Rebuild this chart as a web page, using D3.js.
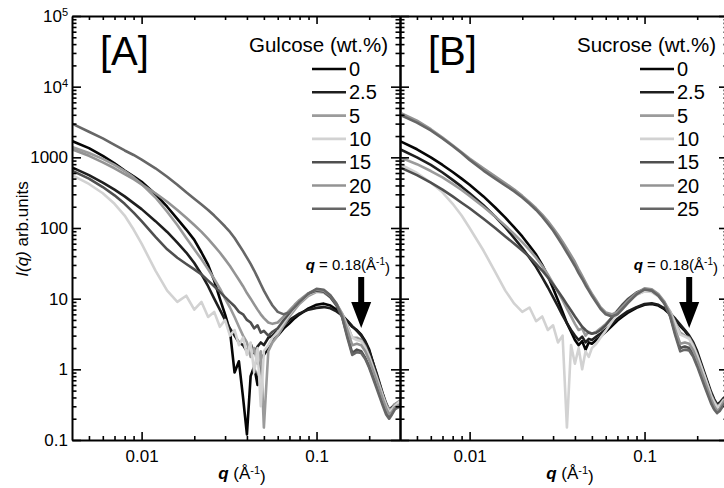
<!DOCTYPE html>
<html>
<head>
<meta charset="utf-8">
<script src="https://cdn.jsdelivr.net/npm/d3@7"></script>
<style>
  body { margin: 0; background: #fff; }
  svg { display: block; font-family: "Liberation Sans", Arial, sans-serif; }
</style>
</head>
<body>
<svg id="chart" width="724" height="488"></svg>
<script>
// q grid (1/Å) shared by every curve
const qValues = [
  0.004, 0.005, 0.006, 0.007, 0.008, 0.009,
  0.01, 0.012, 0.014, 0.016, 0.018, 0.02,
  0.022, 0.024, 0.026, 0.028, 0.03, 0.032, 0.034, 0.036, 0.038, 0.04, 0.042, 0.044, 0.046, 0.048, 0.05,
  0.053, 0.056, 0.06, 0.065, 0.07, 0.075, 0.08, 0.09,
  0.1, 0.11, 0.12, 0.13, 0.14, 0.15, 0.16, 0.17, 0.18, 0.19, 0.2,
  0.22, 0.24, 0.25, 0.26, 0.27, 0.28, 0.3
]
const concLabels = ['0', '2.5', '5', '10', '15', '20', '25']
const lineColors = ['#050505', '#1e1e1e', '#9b9b9b', '#d2d2d2', '#4f4f4f', '#939393', '#666666']

// panel A, glucose
const glucose0 = [1700, 1350, 1050, 820, 650, 540,
  450, 300, 200, 135, 95, 68,
  45, 30, 18, 10, 6, 3.5, 0.9, 1.3, 0.4, 0.12, 0.8, 1.1, 0.6, 1.4, 1.6,
  2.0, 2.6, 3.0, 3.8, 4.5, 5.3, 6.0, 7.3,
  8.2, 8.5, 8.0, 7.0, 5.8, 4.8, 4.0, 3.6, 3.1, 2.5, 1.9,
  0.85, 0.42, 0.3, 0.25, 0.27, 0.31, 0.33]
const glucose2_5 = [720, 560, 440, 350, 280, 225,
  185, 125, 88, 62, 45, 32,
  22, 15, 10, 7, 5, 3.8, 3.0, 2.4, 2.2, 1.8, 2.3, 1.7, 2.1, 2.4, 2.2,
  2.8, 3.0, 3.6, 4.3, 5.0, 5.6, 6.2, 7.0,
  7.4, 7.6, 7.3, 6.6, 5.8, 4.9, 4.1, 3.5, 3.0, 2.4, 1.8,
  0.9, 0.44, 0.33, 0.27, 0.29, 0.32, 0.35]
const glucose5 = [1400, 1150, 950, 780, 640, 520,
  420, 270, 170, 110, 72, 50,
  36, 26, 19, 14, 10, 7.5, 5.5, 4.0, 3.0, 2.4, 1.5, 2.0, 1.2, 1.8, 0.15,
  1.8, 2.4, 3.0, 4.2, 5.6, 7.0, 8.5, 11,
  12.5, 12.2, 10.6, 8.4, 6.2, 4.2, 2.8, 2.8, 2.6, 2.1, 1.55,
  0.8, 0.42, 0.32, 0.27, 0.28, 0.32, 0.36]
const glucose10 = [560, 420, 310, 220, 150, 95,
  60, 25, 13, 9, 11, 7,
  9, 5.5, 6.5, 4, 5, 3, 3.6, 2.2, 2.8, 1.6, 2.4, 0.9, 2.0, 0.3, 1.8,
  2.2, 2.8, 3.4, 4.6, 6.0, 7.5, 9.0, 11.5,
  12.8, 12.3, 10.5, 8.2, 6.0, 4.0, 2.8, 2.6, 2.5, 2.0, 1.5,
  0.75, 0.4, 0.3, 0.25, 0.27, 0.3, 0.35]
const glucose15 = [650, 500, 380, 290, 220, 165,
  125, 75, 50, 38, 31, 26,
  22, 18, 15, 12.5, 10.5, 9, 7.8, 6.5, 6.0, 5.0, 4.6, 3.8, 4.2, 3.3, 3.5,
  3.0, 3.4, 3.8, 5.0, 6.3, 7.8, 9.3, 11.8,
  13, 12.5, 10.5, 8.0, 5.5, 3.0, 1.7, 1.9, 1.8, 1.45, 1.1,
  0.6, 0.33, 0.25, 0.21, 0.24, 0.28, 0.3]
const glucose20 = [1300, 1050, 850, 700, 580, 490,
  415, 310, 235, 180, 140, 110,
  88, 70, 56, 45, 36, 29, 23, 18.5, 15, 12, 10, 8.3, 7, 6, 5.3,
  4.6, 4.4, 4.6, 5.6, 6.8, 8.2, 9.6, 12,
  13.5, 13, 11, 8.5, 6.0, 3.6, 2.2, 2.3, 2.2, 1.8, 1.35,
  0.7, 0.37, 0.28, 0.23, 0.25, 0.29, 0.32]
const glucose25 = [3000, 2300, 1850, 1500, 1250, 1080,
  930, 700, 530, 410, 320, 260,
  215, 180, 150, 125, 105, 88, 72, 58, 47, 38, 31, 25, 20, 16, 13,
  10, 8, 6.5, 6.0, 6.4, 7.6, 9, 11.8,
  13.8, 13.4, 11.2, 8.5, 5.5, 2.8, 1.6, 1.75, 1.7, 1.4, 1.05,
  0.55, 0.3, 0.23, 0.2, 0.23, 0.27, 0.3]

// panel B, sucrose
const sucrose0 = [1700, 1300, 1000, 780, 620, 500,
  410, 280, 195, 140, 102, 76,
  56, 42, 30, 21, 14, 9.5, 6.5, 4.5, 3.4, 2.6, 2.2, 2.5, 1.9, 2.4, 2.3,
  2.6, 2.9, 3.4, 4.1, 4.9, 5.6, 6.3, 7.4,
  8.2, 8.4, 8.0, 7.1, 6.0, 5.0, 4.1, 3.5, 2.9, 2.3, 1.7,
  0.85, 0.45, 0.36, 0.3, 0.32, 0.36, 0.42]
const sucrose2_5 = [1300, 1000, 780, 610, 480, 385,
  310, 210, 145, 102, 72, 52,
  38, 28, 20, 14.5, 10.5, 7.8, 5.8, 4.5, 3.6, 3.0, 2.6, 2.9, 2.4, 2.7, 2.6,
  2.9, 3.2, 3.7, 4.4, 5.2, 5.9, 6.6, 7.6,
  8.4, 8.6, 8.2, 7.3, 6.2, 5.2, 4.3, 3.6, 3.0, 2.4, 1.8,
  0.9, 0.48, 0.38, 0.32, 0.34, 0.38, 0.45]
const sucrose5 = [1000, 800, 640, 520, 420, 345,
  285, 200, 145, 108, 82, 63,
  49, 38, 29, 22, 16.5, 12.5, 9.5, 7.2, 5.6, 4.4, 3.6, 3.8, 3.0, 3.4, 3.2,
  3.4, 3.8, 4.4, 5.4, 6.6, 8.0, 9.3, 11.4,
  12.8, 12.6, 11, 8.8, 6.6, 4.6, 3.3, 3.0, 2.8, 2.2, 1.6,
  0.82, 0.44, 0.35, 0.3, 0.32, 0.36, 0.44]
const sucrose10 = [800, 600, 440, 320, 220, 150,
  100, 48, 24, 13, 8.5, 6.5,
  7.5, 4.8, 5.6, 3.6, 4.2, 2.4, 3.0, 0.15, 2.2, 1.2, 2.0, 1.0, 1.8, 1.5, 2.0,
  2.3, 2.8, 3.5, 4.7, 6.1, 7.6, 9.0, 11.4,
  12.6, 12.4, 10.8, 8.6, 6.4, 4.4, 3.1, 2.9, 2.7, 2.1, 1.55,
  0.8, 0.42, 0.34, 0.29, 0.31, 0.35, 0.43]
const sucrose15 = [720, 560, 440, 350, 280, 228,
  190, 135, 100, 76, 60, 48,
  39, 31, 25, 20, 16, 12.8, 10.3, 8.3, 6.8, 5.6, 4.7, 4.0, 3.6, 3.3, 3.2,
  3.3, 3.6, 4.2, 5.4, 6.8, 8.3, 9.8, 12.2,
  13.6, 13.2, 11.2, 8.6, 5.8, 3.2, 2.0, 2.1, 2.0, 1.6, 1.2,
  0.62, 0.35, 0.28, 0.25, 0.27, 0.31, 0.38]
const sucrose20 = [4300, 3300, 2500, 1900, 1480, 1180,
  960, 700, 540, 430, 350, 285,
  232, 190, 155, 125, 100, 80, 64, 51, 41, 33, 26, 21, 17, 14, 11.8,
  9.4, 7.6, 6.4, 6.0, 6.5, 7.8, 9.2, 12,
  14, 13.6, 11.6, 9, 6.2, 3.6, 2.3, 2.4, 2.3, 1.85, 1.35,
  0.7, 0.38, 0.3, 0.26, 0.28, 0.33, 0.42]
const sucrose25 = [4000, 3100, 2400, 1850, 1450, 1150,
  920, 650, 500, 400, 330, 270,
  220, 180, 145, 115, 92, 72, 57, 45, 36, 29, 23, 19, 15.5, 13, 11,
  8.8, 7.2, 6.0, 5.6, 6.0, 7.2, 8.6, 11.5,
  13.5, 13, 11, 8.5, 5.6, 3.0, 1.8, 1.9, 1.85, 1.5, 1.1,
  0.58, 0.33, 0.27, 0.24, 0.26, 0.3, 0.38]

const yMajorTicks = [0.1, 1, 10, 100, 1000, 1e4, 1e5]
const xMajorTicks = [0.01, 0.1]
const markerQ = 0.18

const svg = d3.select('#chart')
const yScale = d3.scaleLog().domain([0.1, 1e5]).range([440, 16])

// minor ticks on the log axes
let yTicks = []
yMajorTicks.forEach((d, i) => {
  yTicks.push(d)
  if (i < yMajorTicks.length - 1) for (let m = 2; m <= 9; m++) yTicks.push(+(d * m).toPrecision(3))
})
let xTicks = [0.005, 0.006, 0.007, 0.008, 0.009, 0.01, 0.02, 0.03, 0.04, 0.05, 0.06, 0.07, 0.08, 0.09, 0.1, 0.2]
let isMajor = v => yMajorTicks.concat(xMajorTicks).some(m => Math.abs(m - v) / m < 1e-6)

let panels = [
  { left: 72, right: 400, tag: '[A]', title: 'Gulcose (wt.%)', showY: true,
    data: [glucose0, glucose2_5, glucose5, glucose10, glucose15, glucose20, glucose25] },
  { left: 400, right: 728, tag: '[B]', title: 'Sucrose (wt.%)', showY: false,
    data: [sucrose0, sucrose2_5, sucrose5, sucrose10, sucrose15, sucrose20, sucrose25] }
]

function shrinkMinor(g, attr) {
  g.selectAll('.tick').filter(d => !isMajor(d)).select('line')
    .attr(attr, function() { return +d3.select(this).attr(attr) * 0.5 })
}

function styleAxis(g) {
  g.attr('font-family', '"Liberation Sans", Arial, sans-serif').attr('font-size', 17)
  g.select('.domain').attr('stroke-width', 2)
  g.selectAll('.tick line').attr('stroke-width', 1.6)
  g.selectAll('.tick text').attr('fill', '#000')
}

panels.forEach((p, pi) => {
  let xScale = d3.scaleLog().domain([0.004, 0.3]).range([p.left, p.right])
  let g = svg.append('g')

  svg.append('clipPath').attr('id', 'clip' + pi)
    .append('rect').attr('x', p.left).attr('y', 16).attr('width', p.right - p.left).attr('height', 424)

  // curves
  let line = d3.line().x(d => xScale(d[0])).y(d => yScale(d[1]))
  g.append('g').attr('clip-path', 'url(#clip' + pi + ')')
    .selectAll('path').data(p.data).enter().append('path')
      .attr('d', vals => line(qValues.map((q, i) => [q, vals[i]])))
      .attr('fill', 'none')
      .attr('stroke', (d, i) => lineColors[i])
      .attr('stroke-width', 2.6)
      .attr('stroke-linejoin', 'round')

  // axes
  let bottom = g.append('g').attr('transform', 'translate(0,440)')
    .call(d3.axisBottom(xScale).tickValues(xTicks).tickSize(-8).tickSizeOuter(0).tickPadding(10)
      .tickFormat(d => isMajor(d) ? (d === 0.01 ? '0.01' : '0.1') : ''))
  shrinkMinor(bottom, 'y2'); styleAxis(bottom)

  let top = g.append('g').attr('transform', 'translate(0,16)')
    .call(d3.axisTop(xScale).tickValues(xTicks).tickSize(-8).tickSizeOuter(0).tickFormat(''))
  shrinkMinor(top, 'y2'); styleAxis(top)

  let left = g.append('g').attr('transform', 'translate(' + p.left + ',0)')
    .call(d3.axisLeft(yScale).tickValues(yTicks).tickSize(-9).tickSizeOuter(0).tickPadding(4)
      .tickFormat(d => (p.showY && isMajor(d)) ? (d >= 1e4 ? '10' : String(d)) : ''))
  shrinkMinor(left, 'x2'); styleAxis(left)
  if (p.showY) {
    left.selectAll('.tick text').filter(d => d >= 1e4 && isMajor(d))
      .append('tspan').attr('dy', '-0.55em').attr('font-size', 11).text(d => Math.round(Math.log10(d)))
  }

  let right = g.append('g').attr('transform', 'translate(' + p.right + ',0)')
    .call(d3.axisRight(yScale).tickValues(yTicks).tickSize(-9).tickSizeOuter(0).tickFormat(''))
  shrinkMinor(right, 'x2'); styleAxis(right)

  // x axis title
  let xt = g.append('text').attr('x', (p.left + p.right) / 2 + 6).attr('y', 479)
    .attr('text-anchor', 'middle').attr('font-size', 17)
  xt.append('tspan').attr('font-weight', 'bold').attr('font-style', 'italic').text('q')
  xt.append('tspan').text(' (Å')
  xt.append('tspan').attr('dy', '-0.5em').attr('font-size', 11).text('-1')
  xt.append('tspan').attr('dy', '0.5em').text(')')

  // panel tag
  g.append('text').attr('x', p.left + 28).attr('y', 65).attr('font-size', 40).text(p.tag)

  // legend
  let lg = g.append('g')
  lg.append('text').attr('x', p.right - 12).attr('y', 52).attr('text-anchor', 'end')
    .attr('font-size', 20.5).text(p.title)
  concLabels.forEach((c, i) => {
    let yy = 69 + i * 23.3
    lg.append('line').attr('x1', p.right - 88).attr('x2', p.right - 54)
      .attr('y1', yy).attr('y2', yy).attr('stroke', lineColors[i]).attr('stroke-width', 2.6)
    lg.append('text').attr('x', p.right - 51).attr('y', yy + 7).attr('font-size', 20).text(c)
  })

  // q = 0.18 marker
  let ax = xScale(markerQ)
  let ann = g.append('text').attr('x', p.right - 10).attr('y', 270).attr('text-anchor', 'end').attr('font-size', 15)
  ann.append('tspan').attr('font-weight', 'bold').attr('font-style', 'italic').text('q')
  ann.append('tspan').text(' = 0.18(Å')
  ann.append('tspan').attr('dy', '-0.5em').attr('font-size', 10).text('-1')
  ann.append('tspan').attr('dy', '0.5em').text(')')
  g.append('path')
    .attr('d', 'M' + (ax - 3) + ',277 L' + (ax + 3) + ',277 L' + (ax + 3) + ',302 L' + (ax + 10) + ',302 L' + ax + ',328 L' +
      (ax - 10) + ',302 L' + (ax - 3) + ',302 Z')
    .attr('fill', '#000')
})

// y axis title
let yt = svg.append('text').attr('transform', 'translate(28,229) rotate(-90)')
  .attr('text-anchor', 'middle').attr('font-size', 17)
yt.append('tspan').attr('font-style', 'italic').text('I(q)')
yt.append('tspan').text(' arb.units')
</script>
</body>
</html>
